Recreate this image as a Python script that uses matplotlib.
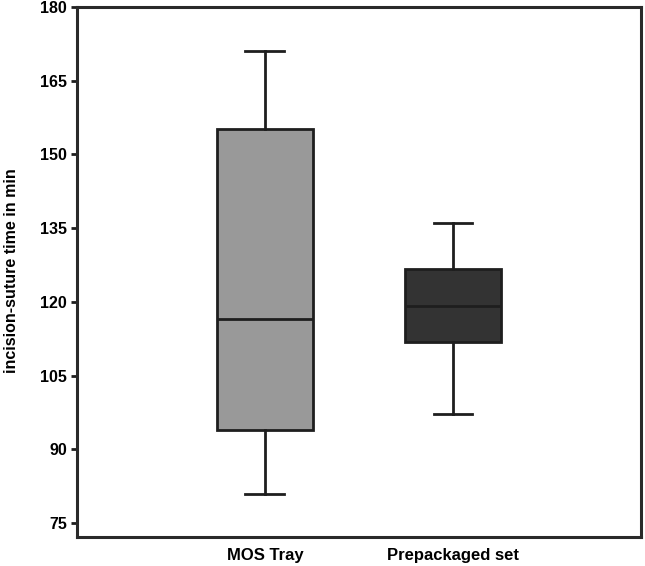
import matplotlib
matplotlib.use("Agg")
import matplotlib.pyplot as plt

# box summary values (minutes)
groups = ["MOS Tray", "Prepackaged set"]
whislo = [81.0, 97.2]
q1 = [93.9, 111.8]
med = [116.5, 119.2]
q3 = [155.2, 126.7]
whishi = [171.0, 136.0]
fills = ["#999999", "#333333"]

y_ticks = [75, 90, 105, 120, 135, 150, 165, 180]

plt.rcParams["font.family"] = ["Liberation Sans", "DejaVu Sans"]
plt.rcParams["font.weight"] = "bold"

fig = plt.figure(figsize=(6.45, 5.66), dpi=100)
ax = fig.add_axes([0.119, 0.051, 0.875, 0.937])

stats = []
for i, g in enumerate(groups):
    stats.append({"label": g, "whislo": whislo[i], "q1": q1[i], "med": med[i],
                  "q3": q3[i], "whishi": whishi[i], "fliers": []})

line_col = "#1e1e1e"
bp = ax.bxp(stats, positions=[1, 2], widths=0.51, patch_artist=True,
            showfliers=False,
            boxprops=dict(edgecolor=line_col, linewidth=2.0),
            medianprops=dict(color=line_col, linewidth=2.0),
            whiskerprops=dict(color=line_col, linewidth=2.0),
            capprops=dict(color=line_col, linewidth=2.0),
            capwidths=0.207)
for patch, c in zip(bp["boxes"], fills):
    patch.set_facecolor(c)

ax.set_xlim(0, 3)
ax.set_ylim(72.15, 180)
ax.set_yticks(y_ticks)
ax.set_yticklabels([str(t) for t in y_ticks], fontsize=11.5, fontweight="bold")
ax.set_xticks([1, 2])
ax.set_xticklabels(groups, fontsize=12, fontweight="bold")
ax.tick_params(axis="x", length=0, pad=8)
ax.tick_params(axis="y", length=4, width=2, color=line_col, pad=3)
for s in ax.spines.values():
    s.set_linewidth(2.2)
    s.set_color("#2a2a2a")

ax.set_ylabel("incision-suture time in min", fontsize=11.5, fontweight="bold")
ax.yaxis.set_label_coords(-0.103, 0.502)

fig.savefig("out.png", dpi=100)
